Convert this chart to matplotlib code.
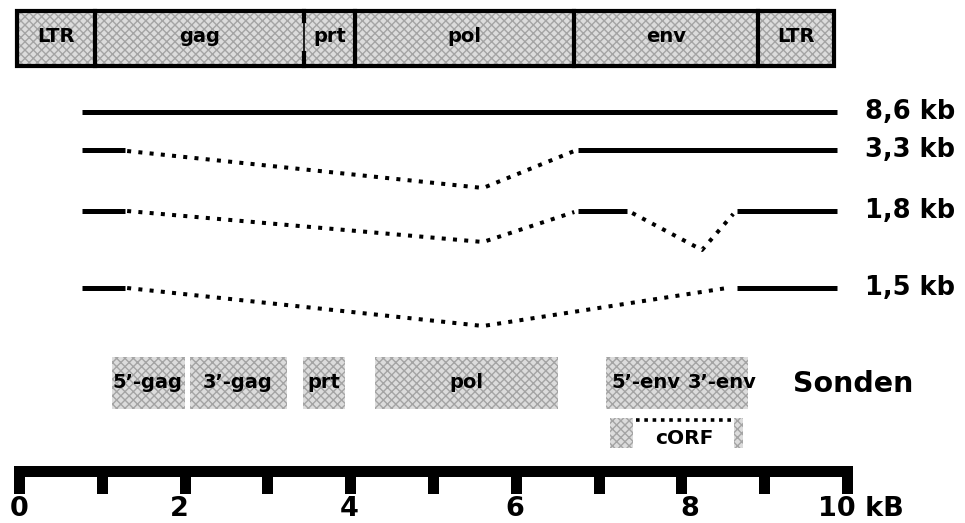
import matplotlib
matplotlib.use("Agg")
import matplotlib.pyplot as plt
from matplotlib.patches import Rectangle

plt.rcParams['font.family'] = ['DejaVu Sans']
plt.rcParams['hatch.linewidth'] = 1.0

# Genomkarte (kb)
gene_names = ['LTR', 'gag', 'prt', 'pol', 'env', 'LTR']
gene_start = [-0.03, 0.91, 3.44, 4.05, 6.70, 8.92]
gene_end = [0.91, 3.44, 4.05, 6.70, 8.92, 9.84]

# Transkripte: Pfade (x in kb, y = Zeile), solid / gespleisst
rna_labels = ['8,6 kb', '3,3 kb', '1,8 kb', '1,5 kb']
rna_y = [112, 150, 211, 288]
rna_solid = [
    [[(0.755, 112), (9.873, 112)]],
    [[(0.755, 150), (1.274, 150)], [(6.745, 150), (9.873, 150)]],
    [[(0.755, 211), (1.274, 211)], [(6.745, 211), (7.337, 211)], [(8.666, 211), (9.873, 211)]],
    [[(0.755, 288), (1.274, 288)], [(8.666, 288), (9.873, 288)]],
]
rna_spliced = [
    [],
    [[(1.30, 151), (5.598, 188), (6.70, 151)]],
    [[(1.30, 211), (5.598, 242), (6.70, 212)], [(7.40, 213), (8.243, 250), (8.62, 214)]],
    [[(1.30, 288), (5.598, 326), (8.545, 288)]],
]

# Sonden
probe_names = ['5’-gag', '3’-gag', 'prt', 'pol', '5’-env', '3’-env']
probe_start = [1.117, 2.059, 3.424, 4.293, 7.083, 8.13]
probe_end = [1.999, 3.23, 3.931, 6.504, 8.13, 8.799]
probe_text_x = [1.55, 2.63, 3.68, 5.40, 7.57, 8.48]
corf_boxes = [(7.13, 7.41), (8.63, 8.74)]
corf_line = (7.44, 8.62)

# Massstab
scale_ticks = list(range(0, 11))
scale_labels = ['0', '2', '4', '6', '8']
scale_label_x = [0.0, 1.93, 3.98, 5.98, 8.10]

px = 82.8  # pixel pro kb
x0 = -19.5 / px
fig = plt.figure(figsize=(9.65, 5.23), dpi=100)
ax = fig.add_axes([0, 0, 1, 1])
ax.set_xlim(x0, x0 + 965 / px)
ax.set_ylim(523, 0)
ax.axis('off')


def grau(x, y, w, h):
    # gerastertes Grau wie im Original
    ax.add_patch(Rectangle((x, y), w, h, facecolor='#dcdcdc', edgecolor='#a4a4a4',
                           hatch='xxxx', lw=0, zorder=1))


# Genombalken
for name, s, e in zip(gene_names, gene_start, gene_end):
    grau(s, 11, e - s, 55)
    ax.text((s + e) / 2, 37, name, ha='center', va='center', fontsize=14,
            fontweight='bold', zorder=3)
ax.add_patch(Rectangle((gene_start[0], 11), gene_end[-1] - gene_start[0], 55,
                       fill=False, edgecolor='black', lw=3, zorder=2))
for b in gene_start[1:]:
    if b == 3.44:
        ax.plot([b, b], [11, 66], color='black', lw=1.2, zorder=2)
        ax.plot([b, b], [11, 21], color='black', lw=3, zorder=2)
        ax.plot([b, b], [53, 66], color='black', lw=3, zorder=2)
    else:
        ax.plot([b, b], [11, 66], color='black', lw=3, zorder=2)

# Transkripte
for lab, y, sol, spl in zip(rna_labels, rna_y, rna_solid, rna_spliced):
    for seg in sol:
        ax.plot([p[0] for p in seg], [p[1] for p in seg], color='black', lw=3.6,
                solid_capstyle='butt')
    for seg in spl:
        ax.plot([p[0] for p in seg], [p[1] for p in seg], color='black', lw=2.9,
                linestyle=(0, (1, 1.8)), dash_capstyle='butt')
    ax.text(10.21, y, lab, ha='left', va='center', fontsize=18.5, fontweight='bold')

# Sonden
for name, s, e, tx in zip(probe_names, probe_start, probe_end, probe_text_x):
    grau(s, 357, e - s, 52)
    ax.text(tx, 383, name, ha='center', va='center', fontsize=14, fontweight='bold',
            zorder=3)
ax.text(9.34, 384, 'Sonden', ha='left', va='center', fontsize=20.5, fontweight='bold')

for s, e in corf_boxes:
    grau(s, 418, e - s, 30)
ax.plot(corf_line, [420, 420], color='black', lw=2.6, linestyle=(0, (1, 1.3)),
        dash_capstyle='butt')
ax.text(sum(corf_line) / 2, 439, 'cORF', ha='center', va='center', fontsize=14.5,
        fontweight='bold')

# Massstab
tw = 11 / px
ax.add_patch(Rectangle((scale_ticks[0] - tw / 2, 466), scale_ticks[-1] - scale_ticks[0] + tw,
                       11, facecolor='black', edgecolor='none'))
for t in scale_ticks:
    ax.add_patch(Rectangle((t - tw / 2, 476), tw, 18, facecolor='black', edgecolor='none'))
for lab, lx in zip(scale_labels, scale_label_x):
    ax.text(lx, 509, lab, ha='center', va='center', fontsize=19.5, fontweight='bold')
ax.text(9.645, 509, '10 kB', ha='left', va='center', fontsize=19.5, fontweight='bold')

fig.savefig('out.png', dpi=100)
